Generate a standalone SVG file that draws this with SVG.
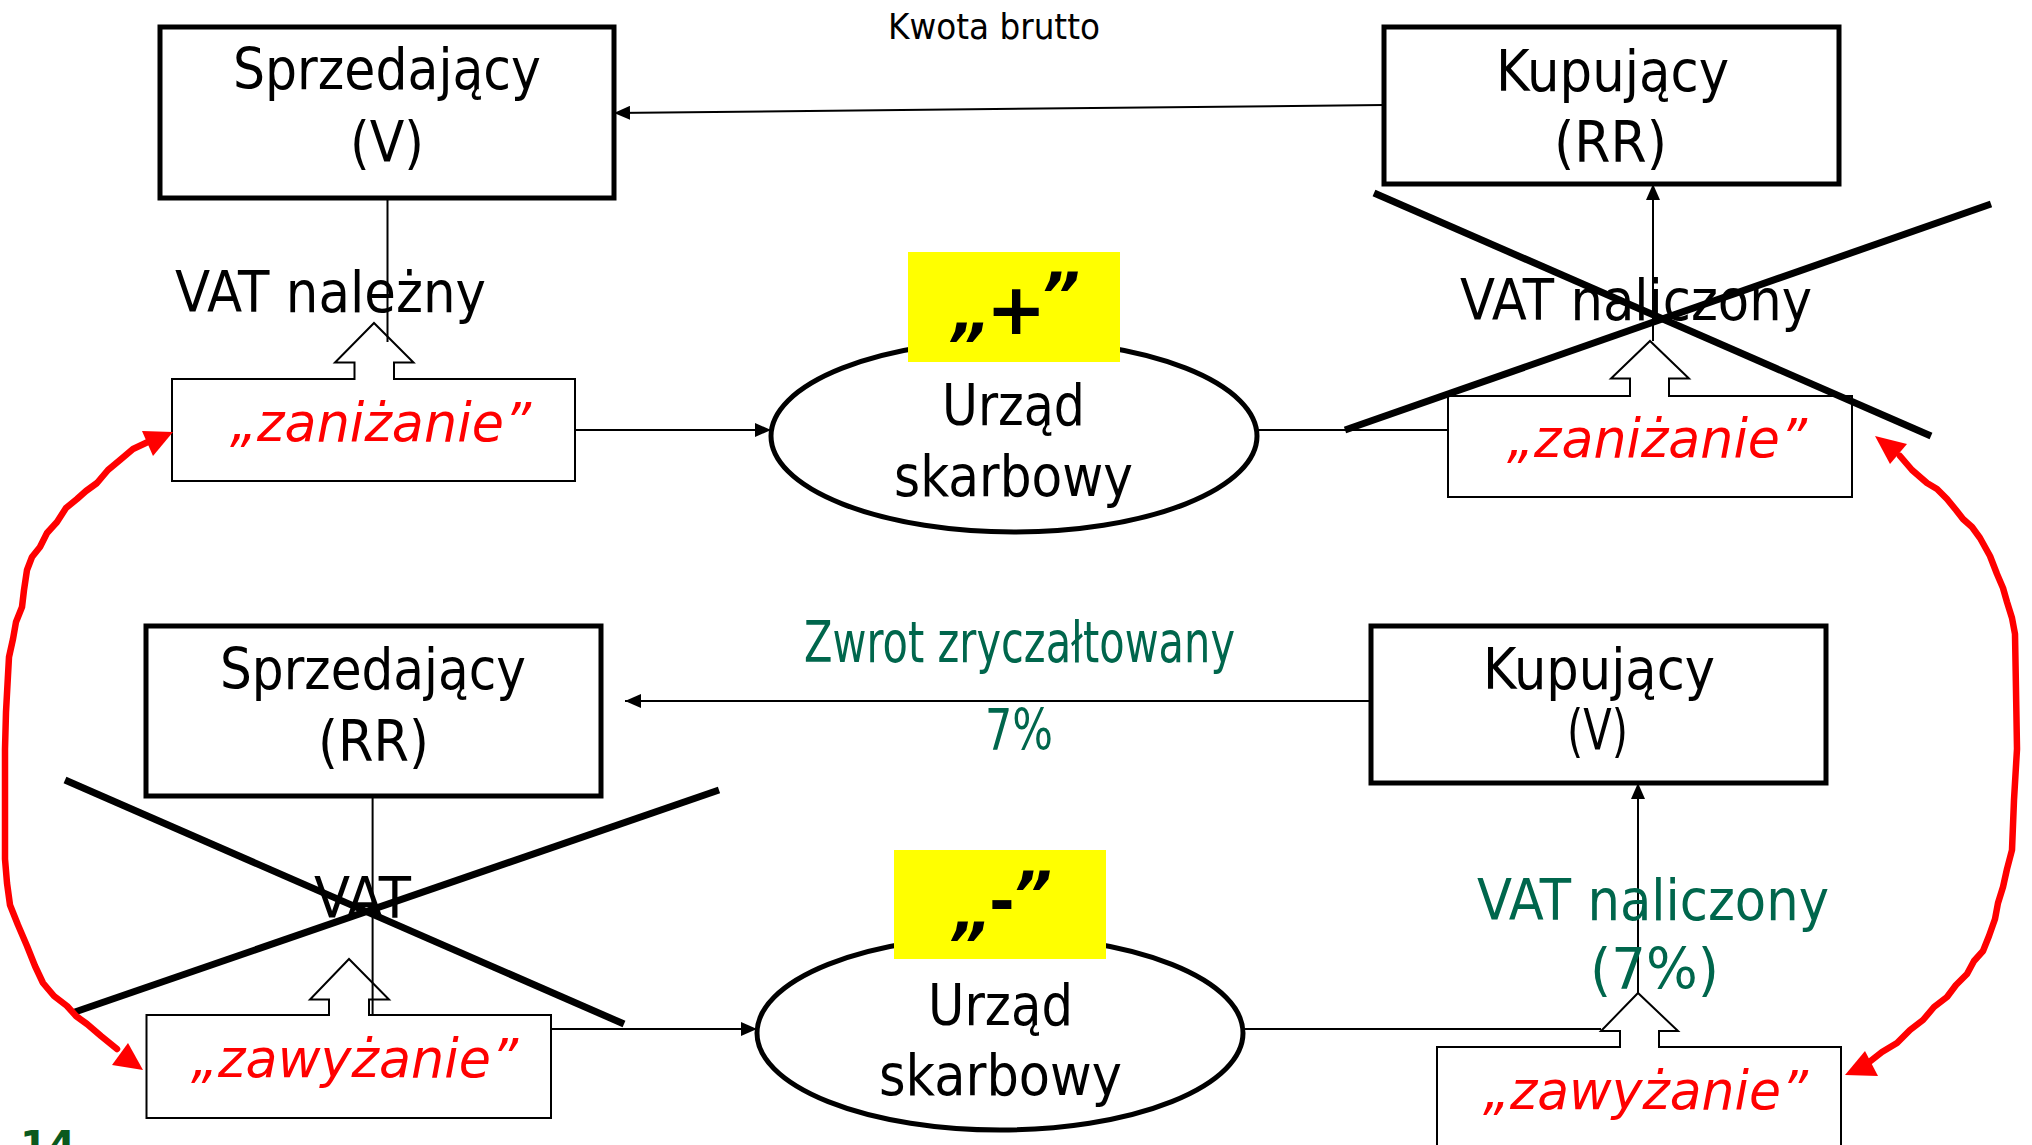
<svg xmlns="http://www.w3.org/2000/svg" width="2032" height="1145" viewBox="0 0 2032 1145">
<style>
.box{fill:#fff;stroke:#000;stroke-width:5}
.call{fill:#fff;stroke:#000;stroke-width:2}
.ell{fill:#fff;stroke:#000;stroke-width:5}
.hl{fill:#ffff00;stroke:none}
.t{font-family:"DejaVu Sans",Verdana,sans-serif;font-size:57px;fill:#000}
.red{font-family:"DejaVu Sans",Verdana,sans-serif;font-style:italic;font-size:53px;fill:#ff0000}
.grn{fill:#00664c}
.sm{font-size:36px}
.q{font-family:"DejaVu Sans",Verdana,sans-serif;font-weight:bold;font-size:62px;fill:#000}
.qi{font-style:italic}
.conn{stroke:#000;stroke-width:2;fill:none}
.cross{stroke:#000;stroke-width:7;fill:none}
.rl{stroke:#ff0000;stroke-width:6.5;fill:none;stroke-linejoin:round;stroke-linecap:round}
.rh{fill:#ff0000}
</style>
<defs>
<marker id="ah" markerWidth="16" markerHeight="14" refX="16" refY="7" orient="auto" markerUnits="userSpaceOnUse"><path d="M0,0 L16,7 L0,14 Z" fill="#000"/></marker>
</defs>
<rect width="2032" height="1145" fill="#fff"/>

<g id="sprzedajacy-v">
<rect class="box" x="160" y="27" width="454" height="171"/>
<text class="t" x="233" y="89" textLength="308" lengthAdjust="spacingAndGlyphs">Sprzedający</text>
<text class="t" x="350" y="162" textLength="74" lengthAdjust="spacingAndGlyphs">(V)</text>
</g>

<g id="kupujacy-rr">
<rect class="box" x="1384" y="27" width="455" height="157"/>
<text class="t" x="1496" y="91" textLength="233" lengthAdjust="spacingAndGlyphs">Kupujący</text>
<text class="t" x="1554" y="162" textLength="113" lengthAdjust="spacingAndGlyphs">(RR)</text>
</g>

<g id="kwota-brutto">
<text class="t sm" x="888" y="39" textLength="212" lengthAdjust="spacingAndGlyphs">Kwota brutto</text>
</g>

<g id="zanizanie-left">
<path class="call" d="M172,379 H354.5 V362.5 H335 L374,323 L413.5,362.5 H394 V379 H575 V481 H172 Z"/>
<text class="red" x="230" y="441" textLength="301" lengthAdjust="spacingAndGlyphs">„zaniżanie”</text>
</g>

<g id="urzad-top">
<ellipse class="ell" cx="1014" cy="436" rx="243" ry="96"/>
<text class="t" x="942" y="425" textLength="143" lengthAdjust="spacingAndGlyphs">Urząd</text>
<text class="t" x="894" y="496" textLength="239" lengthAdjust="spacingAndGlyphs">skarbowy</text>
</g>

<g id="plus">
<rect class="hl" x="908" y="252" width="212" height="110"/>
<text class="q"><tspan class="qi" x="952" y="334">„</tspan><tspan x="986" y="334" font-size="72">+</tspan><tspan class="qi" x="1040" y="317">”</tspan></text>
</g>

<g id="zanizanie-right">
<path class="call" d="M1448,396 H1630 V378.6 H1611 L1650,341 L1689,378.6 H1669 V396 H1852 V497 H1448 Z"/>
<text class="red" x="1507" y="457" textLength="300" lengthAdjust="spacingAndGlyphs">„zaniżanie”</text>
</g>

<g id="sprzedajacy-rr">
<rect class="box" x="146" y="626" width="455" height="170"/>
<text class="t" x="220" y="689" textLength="306" lengthAdjust="spacingAndGlyphs">Sprzedający</text>
<text class="t" x="318" y="761" textLength="111" lengthAdjust="spacingAndGlyphs">(RR)</text>
</g>

<g id="kupujacy-v">
<rect class="box" x="1371" y="626" width="455" height="157"/>
<text class="t" x="1483" y="689" textLength="232" lengthAdjust="spacingAndGlyphs">Kupujący</text>
<text class="t" x="1567" y="750" font-size="44" textLength="61" lengthAdjust="spacingAndGlyphs">(V)</text>
</g>

<g id="zwrot">
<text class="t grn" x="804" y="662" font-size="46" textLength="431" lengthAdjust="spacingAndGlyphs">Zwrot zryczałtowany</text>
<text class="t grn" x="985" y="750" font-size="46" textLength="68" lengthAdjust="spacingAndGlyphs">7%</text>
</g>

<g id="zawyzanie-left">
<path class="call" d="M146.5,1015 H329 V999.5 H310 L349,959 L389,999.5 H369 V1015 H551 V1118 H146.5 Z"/>
<text class="red" x="191" y="1077" textLength="327" lengthAdjust="spacingAndGlyphs">„zawyżanie”</text>
</g>

<g id="urzad-bottom">
<ellipse class="ell" cx="1000" cy="1033" rx="243" ry="97"/>
<text class="t" x="928" y="1025" textLength="145" lengthAdjust="spacingAndGlyphs">Urząd</text>
<text class="t" x="879" y="1095" textLength="243" lengthAdjust="spacingAndGlyphs">skarbowy</text>
</g>

<g id="minus">
<rect class="hl" x="894" y="850" width="212" height="109"/>
<text class="q"><tspan class="qi" x="953" y="933">„</tspan><tspan x="989" y="923">-</tspan><tspan class="qi" x="1012" y="916">”</tspan></text>
</g>

<g id="zawyzanie-right">
<path class="call" d="M1437,1047 H1620 V1031 H1601 L1638,993 L1678,1031 H1659 V1047 H1841 V1160 H1437 Z"/>
<text class="red" x="1483" y="1109" textLength="325" lengthAdjust="spacingAndGlyphs">„zawyżanie”</text>
</g>

<g id="connectors">
<line class="conn" x1="1384" y1="105" x2="614" y2="113" marker-end="url(#ah)"/>
<line class="conn" x1="387.5" y1="198" x2="387.5" y2="342"/>
<line class="conn" x1="576" y1="430" x2="771" y2="430" marker-end="url(#ah)"/>
<line class="conn" x1="1257" y1="430" x2="1448" y2="430"/>
<line class="conn" x1="1653" y1="341" x2="1653" y2="184" marker-end="url(#ah)"/>
<line class="conn" x1="1371" y1="701" x2="625" y2="701" marker-end="url(#ah)"/>
<line class="conn" x1="372.6" y1="796" x2="372.6" y2="1015"/>
<line class="conn" x1="551" y1="1029" x2="757" y2="1029" marker-end="url(#ah)"/>
<line class="conn" x1="1243" y1="1029" x2="1601" y2="1029"/>
<line class="conn" x1="1638" y1="993" x2="1638" y2="783" marker-end="url(#ah)"/>
</g>

<g id="vat-labels">
<text class="t" x="175" y="312" textLength="311" lengthAdjust="spacingAndGlyphs">VAT należny</text>
<text class="t" x="1460" y="320" textLength="352" lengthAdjust="spacingAndGlyphs">VAT naliczony</text>
<text class="t" x="314" y="918" textLength="97" lengthAdjust="spacingAndGlyphs">VAT</text>
<text class="t grn" x="1477" y="920" textLength="352" lengthAdjust="spacingAndGlyphs">VAT naliczony</text>
<text class="t grn" x="1590" y="989" textLength="129" lengthAdjust="spacingAndGlyphs">(7%)</text>
</g>

<g id="crosses">
<line class="cross" x1="1374" y1="193" x2="1931" y2="436"/>
<line class="cross" x1="1345" y1="430" x2="1991" y2="204"/>
<line class="cross" x1="65" y1="780" x2="624" y2="1024"/>
<line class="cross" x1="72" y1="1013" x2="719" y2="790"/>
</g>

<g id="red-arrows">
<polyline class="rl" points="150,441 133,449 120,460 108,470 97,483 86,491 77,499 66,508 57,522 47,533 40,547 32,557 27,570 24,590 22,607 16,622 13,639 9,657 8,675 6,712 5,749 5,805 5,859 7,883 10,905 18,925 27,946 35,966 43,983 54,996 67,1006 76,1016 87,1024 101,1036 117,1049"/>
<polygon class="rh" points="173,432 142,431 153,456"/>
<polygon class="rh" points="143,1070 112,1065 128,1043"/>
<polyline class="rl" points="1900,456 1912,470 1927,483 1937,489 1947,499 1956,510 1963,519 1972,527 1980,538 1990,556 1997,574 2003,588 2007,602 2012,618 2015,634 2016,690 2017,749 2014,800 2012,850 2007,869 2003,887 1998,903 1995,919 1989,936 1983,951 1974,961 1967,974 1956,985 1947,997 1934,1007 1923,1020 1910,1030 1897,1043 1882,1052 1868,1063"/>
<polygon class="rh" points="1875,436 1907,444 1890,464"/>
<polygon class="rh" points="1845,1075 1865,1051 1878,1076"/>
</g>

<g id="page-number">
<text x="20" y="1160" font-family="'DejaVu Sans',Verdana,sans-serif" font-weight="bold" font-size="40" fill="#0b5a1e">14</text>
</g>
</svg>
